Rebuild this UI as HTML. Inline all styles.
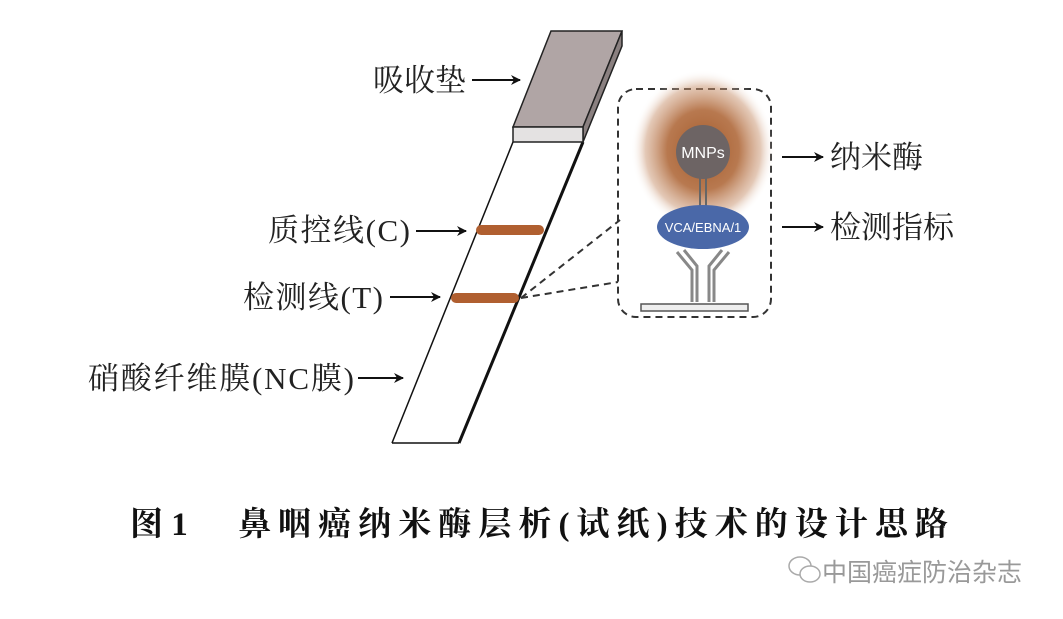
<!DOCTYPE html>
<html><head><meta charset="utf-8"><style>
body{margin:0;background:#fff;width:1063px;height:619px;overflow:hidden}
svg{display:block}
.t{font-family:"Liberation Serif","Noto Serif CJK SC",serif;font-size:31px;fill:#222}
</style></head><body>
<svg width="1063" height="619" viewBox="0 0 1063 619">
<defs>
<radialGradient id="g"><stop offset="0" stop-color="#a45a2a"/><stop offset="0.5" stop-color="#b06a3c" stop-opacity="0.9"/><stop offset="0.8" stop-color="#c8926e" stop-opacity="0.5"/><stop offset="1" stop-color="#fff" stop-opacity="0"/></radialGradient>
<marker id="a" markerWidth="10" markerHeight="10" refX="9" refY="5" orient="auto" markerUnits="userSpaceOnUse"><path d="M0,0 L10,5 L0,10 L3,5z" fill="#111"/></marker>
</defs>
<line x1="513" y1="142" x2="392" y2="443" stroke="#111" stroke-width="1.5"/>
<line x1="583" y1="142" x2="459" y2="443" stroke="#111" stroke-width="3"/>
<line x1="392" y1="443" x2="459" y2="443" stroke="#111" stroke-width="1.5"/>
<polygon points="551,31 622,31 583,127 513,127" fill="#b0a5a5" stroke="#222" stroke-width="1.5"/>
<polygon points="622,31 622,46 583,142 583,127" fill="#8a8080" stroke="#222" stroke-width="1.5"/>
<rect x="513" y="127" width="70" height="15" fill="#e4e2e2" stroke="#222" stroke-width="1.5"/>
<line x1="481" y1="230" x2="539" y2="230" stroke="#b05f30" stroke-width="10" stroke-linecap="round"/>
<line x1="456" y1="298" x2="514" y2="298" stroke="#b05f30" stroke-width="10" stroke-linecap="round"/>
<line x1="521" y1="298" x2="620" y2="220" stroke="#333" stroke-width="2" stroke-dasharray="7,5"/>
<line x1="521" y1="298" x2="618" y2="282" stroke="#333" stroke-width="2" stroke-dasharray="7,5"/>
<rect x="618" y="89" width="153" height="228" rx="18" fill="none" stroke="#333" stroke-width="2" stroke-dasharray="7,5"/>
<ellipse cx="703" cy="150" rx="72" ry="80" fill="url(#g)"/>
<line x1="700" y1="175" x2="700" y2="210" stroke="#666" stroke-width="2"/>
<line x1="706" y1="175" x2="706" y2="210" stroke="#666" stroke-width="2"/>
<circle cx="703" cy="152" r="27" fill="#6d6464"/>
<text x="703" y="158" text-anchor="middle" font-family="Liberation Sans,sans-serif" font-size="16" fill="#fff">MNPs</text>
<ellipse cx="703" cy="227" rx="46" ry="22" fill="#4a68a8"/>
<text x="703" y="232" text-anchor="middle" font-family="Liberation Sans,sans-serif" font-size="13" fill="#fff">VCA/EBNA/1</text>
<g stroke="#888" stroke-width="3" fill="none">
<path d="M677,252 L692,270 L692,302"/><path d="M729,252 L714,270 L714,302"/>
<path d="M684,250 L697,266 L697,302"/><path d="M722,250 L709,266 L709,302"/>
</g>
<rect x="641" y="304" width="107" height="7" fill="#eee" stroke="#555" stroke-width="1.5"/>
<text class="t" x="373" y="91">吸收垫</text>
<line x1="472" y1="80" x2="520" y2="80" stroke="#111" stroke-width="2" marker-end="url(#a)"/>
<text class="t" x="268" y="241" textLength="142">质控线(C)</text>
<line x1="416" y1="231" x2="466" y2="231" stroke="#111" stroke-width="2" marker-end="url(#a)"/>
<text class="t" x="243" y="308" textLength="140">检测线(T)</text>
<line x1="390" y1="297" x2="440" y2="297" stroke="#111" stroke-width="2" marker-end="url(#a)"/>
<text class="t" x="88" y="389" textLength="266">硝酸纤维膜(NC膜)</text>
<line x1="358" y1="378" x2="403" y2="378" stroke="#111" stroke-width="2" marker-end="url(#a)"/>
<line x1="782" y1="157" x2="823" y2="157" stroke="#111" stroke-width="2" marker-end="url(#a)"/>
<text class="t" x="830" y="168">纳米酶</text>
<line x1="782" y1="227" x2="823" y2="227" stroke="#111" stroke-width="2" marker-end="url(#a)"/>
<text class="t" x="830" y="238">检测指标</text>
<text x="130" y="535" font-family="Liberation Serif,'Noto Serif CJK SC',serif" font-size="33" font-weight="bold" fill="#111">图 1</text>
<text x="238" y="535" font-family="Liberation Serif,'Noto Serif CJK SC',serif" font-size="33" font-weight="bold" fill="#111" textLength="710">鼻咽癌纳米酶层析(试纸)技术的设计思路</text>
<g stroke="#aaa" fill="none" stroke-width="1.5"><ellipse cx="800" cy="566" rx="11" ry="9"/><ellipse cx="810" cy="574" rx="10" ry="8" fill="#fff"/></g>
<text x="822" y="581" font-family="'Noto Sans CJK SC',sans-serif" font-size="25" fill="#999">中国癌症防治杂志</text>
</svg>
</body></html>
